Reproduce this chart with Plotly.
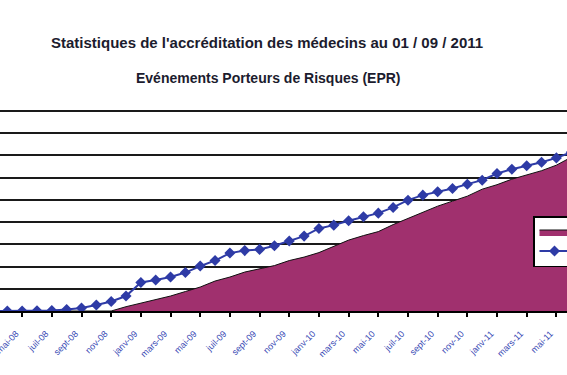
import plotly.graph_objects as go

months = ["mars-08", "avr-08", "mai-08", "juin-08", "juil-08", "août-08", "sept-08", "oct-08", "nov-08", "déc-08",
          "janv-09", "févr-09", "mars-09", "avr-09", "mai-09", "juin-09", "juil-09", "août-09", "sept-09", "oct-09", "nov-09", "déc-09",
          "janv-10", "févr-10", "mars-10", "avr-10", "mai-10", "juin-10", "juil-10", "août-10", "sept-10", "oct-10", "nov-10", "déc-10",
          "janv-11", "févr-11", "mars-11", "avr-11", "mai-11", "juin-11", "juil-11", "août-11"]

accredites = [0, 0, 0, 0, 0, 0, 0, 0, 0, 97,
              180, 258, 337, 438, 539, 674, 764, 876, 955, 1022, 1135, 1213,
              1314, 1461, 1595, 1697, 1786, 1944, 2078, 2225, 2359, 2472, 2584, 2741,
              2842, 2966, 3067, 3157, 3281, 3460, 3600, 3700]

engages = [0, 0, 0, 3, 11, 34, 67, 135, 213, 337,
           640, 697, 764, 865, 1011, 1135, 1303, 1359, 1386, 1467, 1573, 1685,
           1858, 1932, 2029, 2119, 2202, 2330, 2494, 2607, 2681, 2757, 2854, 2944,
           3094, 3191, 3269, 3348, 3445, 3573, 3663, 3740]

tick_labels = ["mai-08", "juil-08", "sept-08", "nov-08", "janv-09", "mars-09", "mai-09", "juil-09",
               "sept-09", "nov-09", "janv-10", "mars-10", "mai-10", "juil-10", "sept-10", "nov-10",
               "janv-11", "mars-11", "mai-11", "juil-11"]

title1 = "Statistiques de l'accréditation des médecins au 01 / 09 / 2011"
title2 = "Evénements Porteurs de Risques (EPR)"

FONT = "Liberation Sans, Arial, sans-serif"

fig = go.Figure()
fig.add_trace(go.Scatter(
    x=months, y=accredites, name="Médecins accrédités", mode="lines",
    fill="tozeroy", fillcolor="#A0306E", line=dict(color="#111111", width=1)))
fig.add_trace(go.Scatter(
    x=months, y=engages, name="Médecins engagés", mode="lines+markers",
    line=dict(color="#2E3BA6", width=2),
    marker=dict(symbol="diamond", size=8.5, color="#2E3BA6")))

W, H = 567, 375
t, b = 109, 64
ph = H - t - b

def py(ypx):
    return (H - b - ypx) / ph

fig.update_layout(
    width=W, height=H,
    margin=dict(l=0, r=0, t=t, b=b, pad=0, autoexpand=False),
    paper_bgcolor="white", plot_bgcolor="white",
    showlegend=True,
    legend=dict(x=533 / W, y=py(216), xanchor="left", yanchor="top",
                bgcolor="white", bordercolor="black", borderwidth=1.5,
                font=dict(family=FONT, size=8, color="black"),
                tracegroupgap=0),
    xaxis=dict(type="category", range=[1 - 7.3 / 14.84, 1 - 7.3 / 14.84 + W / 14.84],
               tickvals=tick_labels, ticktext=tick_labels, tickangle=-45,
               ticks="outside", ticklen=4, tickwidth=1.5, tickcolor="black",
               showgrid=False, showline=True, linecolor="black", linewidth=2,
               tickfont=dict(family=FONT, size=9, color="#3A4BB5"),
               ticklabelshift=-6, ticklabelstandoff=8,
               automargin=False, zeroline=False),
    yaxis=dict(range=[0, 4545], dtick=500, showticklabels=False, showline=False,
               showgrid=True, gridcolor="#1a1a1a", gridwidth=2, zeroline=False,
               automargin=False),
    annotations=[
        dict(text="<b>" + title1 + "</b>", x=267 / W, y=py(43), xref="paper", yref="paper",
             showarrow=False, xanchor="center", yanchor="middle",
             font=dict(family=FONT, size=15, color="#1C1C2E")),
        dict(text="<b>" + title2 + "</b>", x=268 / W, y=py(78), xref="paper", yref="paper",
             showarrow=False, xanchor="center", yanchor="middle",
             font=dict(family=FONT, size=14, color="#1C1C2E")),
    ],
)

fig.write_html("out.html", config={"displayModeBar": False},
               post_script="document.body.style.margin='0';document.body.style.overflow='hidden';")
